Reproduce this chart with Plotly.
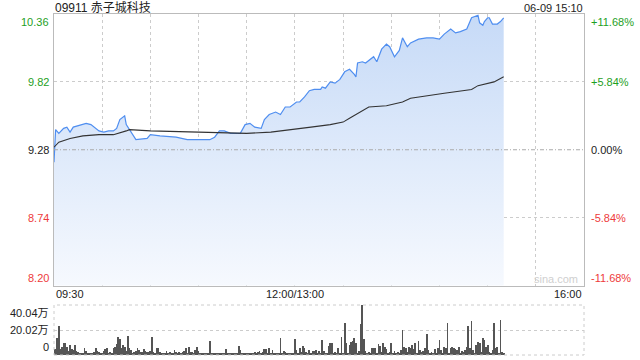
import plotly.graph_objects as go

# ---------------- data ----------------
title_code = "09911"
title_name = "赤子城科技"
stamp_text = "06-09 15:10"

price_times = ["09:30", "09:31", "09:33", "09:36", "09:38", "09:40", "09:42", "09:48", "09:50", "09:53",
               "09:58", "10:01", "10:04", "10:07", "10:09", "10:11", "10:14", "10:15", "10:17", "10:21",
               "10:28", "10:30", "10:36", "10:46", "10:53", "10:59", "11:07", "11:10", "11:13", "11:16",
               "11:20", "11:26", "11:29", "11:32", "11:35", "11:39", "11:41", "11:44", "11:48", "11:51",
               "11:54", "11:57", "11:59", "13:01", "13:03", "13:06", "13:09", "13:12", "13:16", "13:17",
               "13:19", "13:22", "13:25", "13:28", "13:31", "13:34", "13:37", "13:38", "13:39", "13:42",
               "13:44", "13:47", "13:49", "13:51", "13:54", "13:57", "13:59", "14:02", "14:05", "14:07",
               "14:10", "14:12", "14:17", "14:22", "14:26", "14:30", "14:33", "14:37", "14:40", "14:43",
               "14:47", "14:49", "14:50", "14:54", "14:55", "14:57", "14:58", "15:00", "15:01", "15:03",
               "15:06", "15:08", "15:10"]
price_values = [9.18, 9.44, 9.41, 9.45, 9.46, 9.42, 9.46, 9.48, 9.49, 9.48,
                9.43, 9.42, 9.43, 9.43, 9.45, 9.52, 9.55, 9.48, 9.44, 9.36,
                9.37, 9.40, 9.39, 9.38, 9.36, 9.36, 9.36, 9.38, 9.43, 9.43,
                9.41, 9.41, 9.48, 9.49, 9.46, 9.45, 9.52, 9.56, 9.58, 9.56,
                9.62, 9.62, 9.64, 9.66, 9.66, 9.70, 9.75, 9.76, 9.76, 9.78,
                9.77, 9.82, 9.81, 9.84, 9.90, 9.92, 9.88, 9.86, 9.97, 9.98,
                9.97, 10.00, 10.02, 9.98, 10.08, 10.12, 10.10, 10.02, 10.07, 10.17,
                10.10, 10.13, 10.16, 10.17, 10.17, 10.16, 10.20, 10.24, 10.21, 10.22,
                10.24, 10.30, 10.33, 10.35, 10.29, 10.27, 10.30, 10.33, 10.33, 10.28,
                10.28, 10.30, 10.33]

avg_times = ["09:30", "09:33", "09:40", "09:48", "09:58", "10:07", "10:15", "10:17", "10:30", "11:00",
             "11:30", "11:45", "11:59", "13:10", "13:22", "13:30", "13:34", "13:44", "13:46", "13:57",
             "14:07", "14:12", "14:22", "14:33", "14:50", "14:54", "15:04", "15:10"]
avg_values = [9.30, 9.34, 9.37, 9.39, 9.40, 9.40, 9.43, 9.44, 9.43, 9.42,
              9.41, 9.42, 9.44, 9.46, 9.48, 9.50, 9.53, 9.61, 9.62, 9.63,
              9.66, 9.69, 9.71, 9.73, 9.76, 9.79, 9.82, 9.86]

# volume per minute (万股), one value per trading minute from 09:30
volumes = [4.5, 5, 13.3, 23.2, 5, 6.7, 9.3, 9.9, 6.7, 3,
           8, 5, 4, 8, 3, 2.7, 2, 1.5, 1.3, 6,
           3.5, 1.3, 1.5, 1.9, 1.2, 2.7, 5.3, 3.5, 2.7, 1.5,
           1.5, 3.5, 4.5, 5.3, 2, 2.7, 1.5, 5.3, 6.7, 8.8,
           14.1, 12.5, 5.3, 8, 6.7, 3, 15.2, 5.3, 4, 2,
           2.7, 3.5, 5.3, 4, 2.7, 2.7, 4.5, 3.5, 2.7, 2.7,
           3.5, 14.7, 2.7, 2, 5.3, 5.3, 2.7, 2, 1.9, 1.5,
           3.5, 2, 2.7, 1.5, 1.3, 4, 2.7, 1.5, 2.7, 2,
           2.7, 3.5, 5.3, 2, 6.7, 2.7, 2.7, 1.5, 4, 6.7,
           3.5, 2, 1.5, 1.3, 2, 1.3, 1.5, 11.2, 1.5, 1.3,
           1.3, 1.5, 1.3, 1.2, 1.5, 1.3, 2, 4.8, 2, 1.3,
           1.5, 1.3, 1.5, 2, 1.5, 7.2, 4, 1.5, 1.3, 1.5,
           1.3, 1.5, 1.3, 2, 1.5, 2.7, 2, 2.7, 3.5, 2,
           2.7, 4.5, 4.5, 2, 5.3, 2, 4, 1.5, 2, 1.5,
           2, 13.9, 2, 3.2, 2.7, 1.5, 1.3, 2, 1.5, 2,
           12.5, 4, 2, 5.3, 2.7, 7.2, 5.3, 2.7, 2, 4,
           2, 3.5, 3.2, 4, 2, 3.5, 2, 12, 3.5, 2,
           2, 7.2, 9.3, 9.3, 2, 2.7, 2, 5.3, 2, 14.1,
           2, 25.9, 9.3, 2, 8, 10.4, 11.5, 13.3, 9.3, 2,
           3, 25.1, 40.04, 12.5, 3.5, 2, 2.7, 2, 5.3, 6,
           5.3, 2, 8.8, 7.2, 2.7, 9.3, 6.7, 4.5, 2, 2.7,
           9.9, 2, 3.5, 2, 2.7, 2, 4, 20, 6.7, 5.3,
           2.7, 6.7, 5.3, 8, 4.5, 9.3, 2, 11.5, 4, 2.7,
           3.5, 5.3, 16.8, 4, 2, 2.7, 2, 4.5, 2, 5.3,
           12, 4, 2, 6.7, 5.3, 25.9, 2, 5.3, 6.7, 5.3,
           4.5, 4, 6.7, 2, 3.5, 2.7, 4, 6.7, 23.2, 5.3,
           27.5, 4, 2, 8, 10.7, 9.3, 2.7, 13.3, 12, 6.7,
           8, 2.7, 2, 4, 25.3, 5.3, 6.7, 2, 28, 2.7, 1.5]

prev_close = 9.28
price_ticks = [10.36, 9.82, 9.28, 8.74, 8.20]
pct_ticks = ["+11.68%", "+5.84%", "0.00%", "-5.84%", "-11.68%"]
vol_ticks = [40.04, 20.02, 0]
vol_tick_text = ["40.04万", "20.02万", "0"]
x_label_text = ["09:30", "12:00/13:00", "16:00"]
x_label_time = ["09:30", "12:00", "16:00"]
session_minutes = 330


def t2i(s):
    h, m = map(int, s.split(":"))
    mins = h * 60 + m
    if mins <= 12 * 60:
        return mins - (9 * 60 + 30)
    return mins - 13 * 60 + 150


# ---------------- geometry (pixels) ----------------
W, H = 640, 360
PL, PR = 54, 584
MT, MB = 14, 285.5
VT, VB = 305, 355


def px(v):
    return v / W


def py(v):
    return (H - v) / H


GREEN = "#1ea01e"
RED = "#ee3b3b"
BLACK = "#222222"
FONT = "Liberation Sans, Arial, Noto Sans CJK SC, sans-serif"

fig = go.Figure()

fig.add_trace(go.Scatter(
    x=[t2i(t) for t in price_times], y=price_values,
    mode="lines", line=dict(color="#4f8ef0", width=1.2),
    fill="tozeroy",
    fillgradient=dict(type="vertical",
                      colorscale=[[0, "rgb(246,249,254)"], [1, "rgb(198,218,247)"]],
                      start=price_ticks[-1], stop=price_ticks[0]),
    xaxis="x", yaxis="y", hoverinfo="skip", showlegend=False))

fig.add_trace(go.Scatter(
    x=[t2i(t) for t in avg_times], y=avg_values,
    mode="lines", line=dict(color="#333333", width=1.1),
    xaxis="x", yaxis="y", hoverinfo="skip", showlegend=False))

fig.add_trace(go.Bar(
    x=list(range(len(volumes))), y=volumes, width=0.5,
    marker=dict(color="#555555", line=dict(width=0)),
    xaxis="x2", yaxis="y2", hoverinfo="skip", showlegend=False))

grid_x = list(range(30, session_minutes, 30))

fig.update_layout(
    width=W, height=H, margin=dict(l=0, r=0, t=0, b=0),
    paper_bgcolor="white", plot_bgcolor="white",
    font=dict(family=FONT, size=11, color=BLACK),
    showlegend=False,
    xaxis=dict(domain=[px(PL), px(PR)], range=[0, session_minutes], tickvals=grid_x,
               showticklabels=False, showgrid=True, gridcolor="#cccccc", griddash="dot",
               gridwidth=1, zeroline=False, showline=True, linecolor="#bbbbbb",
               linewidth=1, mirror=True, ticks="", anchor="y"),
    yaxis=dict(domain=[py(MB), py(MT)], range=[price_ticks[-1], price_ticks[0]],
               tickvals=[price_ticks[1], price_ticks[3]], showticklabels=False,
               showgrid=True, gridcolor="#cccccc", griddash="dot", zeroline=False,
               showline=True, linecolor="#bbbbbb", linewidth=1, mirror=True, ticks="",
               anchor="x"),
    xaxis2=dict(domain=[px(PL), px(PR)], range=[0, session_minutes], showticklabels=False,
                showgrid=False, zeroline=False, showline=False, ticks="", anchor="y2"),
    yaxis2=dict(domain=[py(VB), py(VT)], range=[0, vol_ticks[0]], tickvals=vol_ticks[:2],
                showticklabels=False, showgrid=True, gridcolor="#cccccc", griddash="dot",
                zeroline=False, showline=False, ticks="", anchor="x2"),
    bargap=0,
)

# prev-close dash-dot line
fig.add_shape(type="line", xref="x domain", yref="y", x0=0, x1=1,
              y0=prev_close, y1=prev_close,
              line=dict(color="#aaaaaa", width=1, dash="4px,2px,1px,2px"))
# volume panel dotted frame
fig.add_shape(type="rect", xref="x2 domain", yref="y2 domain", x0=0, x1=1, y0=0, y1=1,
              line=dict(color="#cccccc", width=1, dash="dot"))

annotations = []
n = len(price_ticks)
for i, (p, pct) in enumerate(zip(price_ticks, pct_ticks)):
    col = GREEN if p > prev_close + 1e-9 else (RED if p < prev_close - 1e-9 else BLACK)
    ya = "top" if i == 0 else ("bottom" if i == n - 1 else "middle")
    annotations.append(dict(x=px(51), xref="paper", y=p, yref="y", text=f"{p:.2f}",
                            xanchor="right", yanchor=ya, showarrow=False,
                            font=dict(color=col, size=11, family=FONT)))
    annotations.append(dict(x=px(589), xref="paper", y=p, yref="y", text=pct,
                            xanchor="left", yanchor=ya, showarrow=False,
                            font=dict(color=col, size=11, family=FONT)))

for i, (v, t) in enumerate(zip(vol_ticks, vol_tick_text)):
    ya = "top" if i == 0 else ("bottom" if i == len(vol_ticks) - 1 else "middle")
    annotations.append(dict(x=px(51), xref="paper", y=v, yref="y2", text=t,
                            xanchor="right", yanchor=ya, showarrow=False,
                            font=dict(color=BLACK, size=11, family=FONT)))

anchors = ["left", "center", "right"]
for t, tm, a in zip(x_label_text, x_label_time, anchors):
    xi = t2i(tm) if tm != "16:00" else session_minutes
    annotations.append(dict(x=xi, xref="x", y=py(294), yref="paper", text=t,
                            xanchor=a, yanchor="middle", showarrow=False,
                            font=dict(color=BLACK, size=11, family=FONT)))

annotations.append(dict(x=px(53), xref="paper", y=py(7.5), yref="paper",
                        text=f"{title_code} {title_name}", xanchor="left", yanchor="middle",
                        showarrow=False, font=dict(color=BLACK, size=12, family=FONT)))
annotations.append(dict(x=px(585), xref="paper", y=py(7.5), yref="paper",
                        text=stamp_text, xanchor="right", yanchor="middle",
                        showarrow=False, font=dict(color=BLACK, size=11, family=FONT)))
annotations.append(dict(x=px(580), xref="paper", y=py(279), yref="paper",
                        text="sina.com", xanchor="right", yanchor="middle",
                        showarrow=False, font=dict(color="#cfcfcf", size=11, family=FONT)))

fig.update_layout(annotations=annotations)

fig.write_html("out.html")
